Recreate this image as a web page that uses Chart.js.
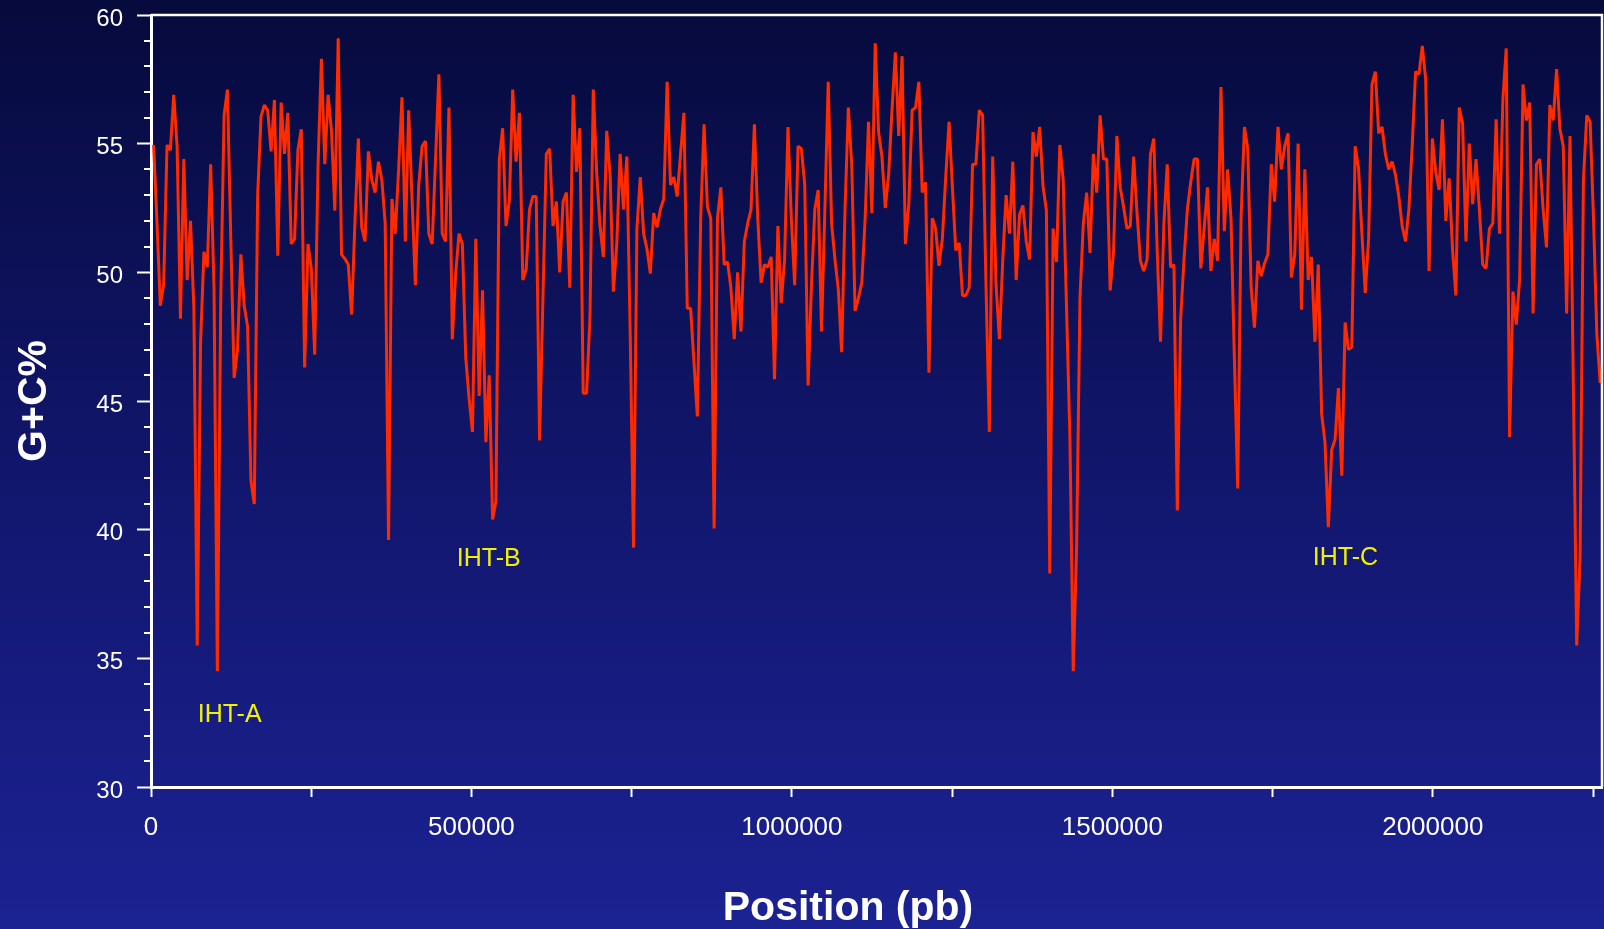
<!DOCTYPE html>
<html>
<head>
<meta charset="utf-8">
<script src="https://cdn.jsdelivr.net/npm/chart.js@4.4.1/dist/chart.umd.min.js"></script>
<style>
  html, body { margin: 0; padding: 0; overflow: hidden; background: #0f1668; }
  #wrap { width: 1604px; height: 929px; }
</style>
</head>
<body>
<div id="wrap"><canvas id="gc" width="1604" height="929"></canvas></div>
<script>
// G+C content of the chromosome, one value per sliding window (in %)
const FIRST_BP = 4060;   // centre of the first window
const STEP_BP = 5237;    // distance between consecutive windows
const gcPercent = [
  54.95, 52.0, 48.7, 49.55, 54.95, 54.75, 56.9, 54.9, 48.2, 54.4,
  49.7, 52.0, 48.6, 35.5, 47.3, 50.8, 50.2, 54.2, 49.4, 34.5,
  48.9, 56.1, 57.1, 51.3, 45.9, 47.0, 50.7, 48.7, 47.9, 41.9,
  41.0, 53.0, 56.05, 56.5, 56.3, 54.7, 56.7, 50.65, 56.6, 54.6,
  56.2, 51.1, 51.3, 54.75, 55.56, 46.3, 51.1, 50.14, 46.8, 54.2,
  58.3, 54.2, 56.9, 55.5, 52.4, 59.1, 50.69, 50.53, 50.3, 48.36,
  52.0, 55.2, 51.75, 51.2, 54.7, 53.6, 53.1, 54.3, 53.6, 51.9,
  39.6, 52.85, 51.5, 54.0, 56.8, 51.2, 56.3, 52.85, 49.5, 53.4,
  54.9, 55.1, 51.5, 51.1, 54.4, 57.7, 51.5, 51.2, 56.4, 47.4,
  49.95, 51.5, 51.1, 46.7, 45.1, 43.8, 51.3, 45.2, 49.3, 43.4,
  46.0, 40.4, 41.1, 54.4, 55.6, 51.8, 52.8, 57.1, 54.3, 56.2,
  49.7, 50.1, 52.45, 52.95, 52.95, 43.47, 49.0, 54.6, 54.8, 51.8,
  52.75, 50.0, 52.75, 53.1, 49.4, 56.9, 53.9, 55.6, 45.3, 45.3,
  48.2, 57.1, 53.9, 51.8, 50.6, 55.5, 53.8, 49.25, 51.1, 54.6,
  52.45, 54.5, 47.6, 39.3, 51.7, 53.7, 51.5, 50.9, 49.95, 52.3,
  51.75, 52.45, 52.85, 57.4, 53.4, 53.7, 52.95, 54.6, 56.2, 48.6,
  48.6, 46.5, 44.4, 52.1, 55.75, 52.55, 52.1, 40.05, 52.1, 53.3,
  50.3, 50.4, 49.4, 47.4, 50.0, 47.7, 51.2, 51.9, 52.45, 55.75,
  52.1, 49.6, 50.3, 50.2, 50.6, 45.85, 51.8, 48.8, 50.5, 55.65,
  52.1, 49.5, 54.9, 54.8, 53.4, 45.6, 49.5, 52.45, 53.2, 47.7,
  52.45, 57.4, 51.9, 50.5, 49.35, 46.9, 52.45, 56.4, 54.2, 48.5,
  49.0, 49.6, 52.1, 55.85, 52.3, 58.9, 55.45, 54.5, 52.5, 53.8,
  56.3, 58.55, 55.3, 58.4, 51.1, 52.65, 56.3, 56.4, 57.4, 53.1,
  53.5, 46.1, 52.1, 51.7, 50.25, 51.3, 53.7, 55.85, 53.3, 50.85,
  51.15, 49.1, 49.1, 49.4, 54.2, 54.2, 56.3, 56.1, 49.5, 43.8,
  54.5, 49.5, 47.4, 50.5, 53.0, 51.5, 54.3, 49.7, 52.25, 52.6,
  51.2, 50.5, 55.45, 54.5, 55.65, 53.35, 52.4, 38.3, 51.7, 50.4,
  54.95, 53.6, 48.6, 43.6, 34.5, 39.3, 49.0, 51.9, 53.1, 50.75,
  54.6, 53.1, 56.1, 54.4, 54.4, 49.3, 50.8, 55.3, 53.3, 52.55,
  51.7, 51.8, 54.5, 52.3, 50.45, 50.05, 50.5, 54.6, 55.2, 50.9,
  47.3, 51.9, 54.2, 50.2, 50.3, 40.75, 48.2, 50.5, 52.45, 53.5,
  54.4, 54.4, 50.15, 51.7, 53.3, 50.05, 51.3, 50.45, 57.2, 51.6,
  54.0, 52.1, 46.7, 41.6, 52.1, 55.65, 54.8, 49.4, 47.85, 50.45,
  49.85, 50.35, 50.7, 54.2, 52.75, 55.65, 54.0, 54.9, 55.4, 49.8,
  50.7, 55.0, 48.55, 54.0, 49.7, 50.6, 47.3, 50.3, 44.5, 43.4,
  40.1, 43.1, 43.5, 45.5, 42.1, 48.05, 47.0, 47.1, 54.9, 54.05,
  51.5, 49.2, 51.3, 57.3, 57.8, 55.4, 55.65, 54.6, 54.0, 54.3,
  53.8, 52.95, 51.8, 51.2, 52.45, 54.95, 57.8, 57.7, 58.8, 57.5,
  50.05, 55.2, 53.9, 53.2, 55.95, 52.0, 53.65, 50.9, 49.1, 56.4,
  55.8, 51.2, 55.0, 52.65, 54.4, 52.45, 50.3, 50.15, 51.7, 51.9,
  55.95, 51.5, 56.7, 58.7, 43.6, 49.25, 47.97, 49.75, 57.3, 55.9,
  56.6, 48.4, 54.2, 54.4, 52.45, 50.97, 56.5, 55.9, 57.9, 55.56,
  54.9, 48.4, 55.3, 45.7, 35.5, 38.9, 53.6, 56.1, 55.85, 52.1,
  47.6, 45.7
];

// Axis ranges, tick marks and tick labels
const X_MIN = 0, X_MAX = 2264000;
const xTickValues = [0, 250000, 500000, 750000, 1000000, 1250000, 1500000, 1750000, 2000000, 2250000];
const xTickLabels = ['0', '', '500000', '', '1000000', '', '1500000', '', '2000000', ''];
const Y_MIN = 30, Y_MAX = 60;
const yTickValues = [30, 31, 32, 33, 34, 35, 36, 37, 38, 39, 40, 41, 42, 43, 44, 45,
                     46, 47, 48, 49, 50, 51, 52, 53, 54, 55, 56, 57, 58, 59, 60];
const yLabelValues = [30, 35, 40, 45, 50, 55, 60];

// Low-GC islands marked on the profile
const islandNames = ['IHT-A', 'IHT-B', 'IHT-C'];
const islandPos = [122700, 527000, 1863700];
const islandGC = [32.8, 38.85, 38.9];

const positions = gcPercent.map((_, i) => FIRST_BP + i * STEP_BP);
const points = gcPercent.map((v, i) => ({ x: positions[i], y: v }));

const FONT = "'Liberation Sans', Arial, Helvetica, sans-serif";
Chart.defaults.font.family = FONT;

// Navy gradient behind the whole figure
const backdrop = {
  id: 'backdrop',
  beforeDraw(chart) {
    const { ctx, width, height } = chart;
    const g = ctx.createLinearGradient(0, 0, 0, height);
    g.addColorStop(0, '#060a3c');
    g.addColorStop(0.55, '#121770');
    g.addColorStop(1, '#1b2292');
    ctx.save();
    ctx.fillStyle = g;
    ctx.fillRect(0, 0, width, height);
    ctx.restore();
  }
};

// Frame on top/right, minor y ticks, x-axis title and the island labels
const decorations = {
  id: 'decorations',
  afterDraw(chart) {
    const { ctx, chartArea: a, scales } = chart;
    const ys = scales.y, xs = scales.x;
    ctx.save();
    ctx.strokeStyle = '#ffffff';
    ctx.lineWidth = 2.5;
    ctx.beginPath();
    ctx.moveTo(a.left, a.top);
    ctx.lineTo(a.right, a.top);
    ctx.lineTo(a.right, a.bottom);
    ctx.stroke();

    ctx.lineWidth = 2;
    ctx.beginPath();
    yTickValues.forEach((v) => {
      if (yLabelValues.includes(v)) return;
      const py = Math.round(ys.getPixelForValue(v));
      ctx.moveTo(a.left - 7, py);
      ctx.lineTo(a.left, py);
    });
    ctx.stroke();

    ctx.fillStyle = '#ffffff';
    ctx.font = 'bold 41px ' + FONT;
    ctx.textAlign = 'center';
    ctx.textBaseline = 'alphabetic';
    ctx.fillText('Position (pb)', 848, 920);

    ctx.fillStyle = '#f2f200';
    ctx.font = '25px ' + FONT;
    ctx.textBaseline = 'middle';
    islandNames.forEach((name, i) => {
      ctx.fillText(name, xs.getPixelForValue(islandPos[i]), ys.getPixelForValue(islandGC[i]));
    });
    ctx.restore();
  }
};

new Chart(document.getElementById('gc'), {
  type: 'line',
  data: {
    datasets: [{
      label: 'G+C%',
      data: points,
      borderColor: '#ff2a00',
      borderWidth: 3,
      pointRadius: 0,
      tension: 0,
      borderJoinStyle: 'bevel',
      fill: false
    }]
  },
  options: {
    responsive: false,
    animation: false,
    devicePixelRatio: 1,
    parsing: false,
    layout: { padding: { top: 15, right: 2, left: 0, bottom: 0 } },
    plugins: { legend: { display: false }, tooltip: { enabled: false } },
    scales: {
      x: {
        type: 'linear',
        min: X_MIN,
        max: X_MAX,
        afterBuildTicks(s) { s.ticks = xTickValues.map((v) => ({ value: v })); },
        afterFit(s) { s.height = 142; s.paddingLeft = 0; s.paddingRight = 0; },
        border: { display: true, color: '#ffffff', width: 3 },
        grid: { display: true, drawOnChartArea: false, drawTicks: true, tickLength: 10, tickColor: '#ffffff', tickWidth: 2 },
        ticks: {
          autoSkip: false,
          maxRotation: 0,
          minRotation: 0,
          padding: 15,
          color: '#ffffff',
          font: { size: 26 },
          callback: (v, i) => xTickLabels[i]
        }
      },
      y: {
        min: Y_MIN,
        max: Y_MAX,
        afterBuildTicks(s) { s.ticks = yTickValues.map((v) => ({ value: v })); },
        afterFit(s) { s.width = 151; s.paddingTop = 0; s.paddingBottom = 0; },
        border: { display: true, color: '#ffffff', width: 3 },
        grid: {
          display: true, drawOnChartArea: false, drawTicks: true, tickLength: 14,
          tickWidth: 2,
          tickColor: (c) => (c.tick && yLabelValues.includes(c.tick.value) ? '#ffffff' : 'rgba(0,0,0,0)')
        },
        ticks: {
          autoSkip: false,
          padding: 14,
          labelOffset: 4,
          color: '#ffffff',
          font: { size: 24 },
          callback: (v) => (yLabelValues.includes(v) ? String(v) : '')
        },
        title: {
          display: true,
          text: 'G+C%',
          color: '#ffffff',
          font: { size: 41, weight: 'bold' },
          padding: { top: 10, bottom: 0 }
        }
      }
    }
  },
  plugins: [backdrop, decorations]
});
</script>
</body>
</html>
